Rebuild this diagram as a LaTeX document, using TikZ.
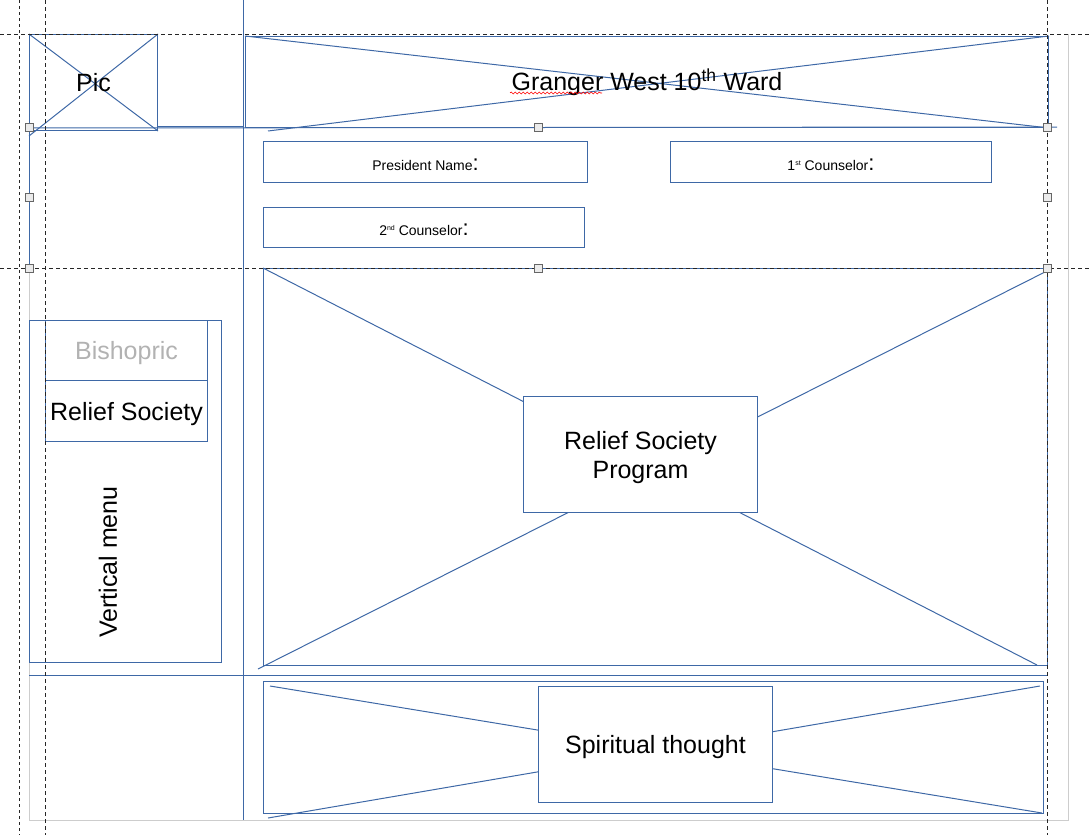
\documentclass[tikz,border=0pt]{standalone}
\usepackage{fontspec}
\setmainfont{Liberation Sans}
\usetikzlibrary{decorations.pathmorphing}
\definecolor{frameblue}{RGB}{62,104,166}
\definecolor{pagegray}{RGB}{205,205,205}
\definecolor{handlegray}{RGB}{235,235,235}
\definecolor{menugray}{RGB}{178,178,178}
\newcommand{\ordsup}[1]{\raisebox{5pt}{\fontsize{7}{7}\selectfont #1}}
\newcommand{\bigcolon}{{\fontsize{22}{22}\selectfont:}}

\begin{document}
\begin{tikzpicture}[x=1pt,y=-1pt,
  frame/.style={draw=frameblue,line width=1pt},
  box/.style={frame,inner sep=0pt,anchor=north west},
  inbox/.style={box,fill=white,align=center},
  guide/.style={draw=black!85,line width=0.9pt,dash pattern=on 4pt off 3pt},
  handle/.style={draw=black!60,fill=handlegray,line width=0.6pt,minimum size=8pt,inner sep=0pt},
  big/.style={font=\fontsize{25}{29}\selectfont},
  lowtext/.style={text depth=0pt},
  small/.style={font=\fontsize{14}{17}\selectfont,text height=16pt,text depth=0pt}]

\useasboundingbox (0,0) rectangle (1091,835);

% page and grid
\coordinate (pgnw) at (29,34);
\coordinate (pgne) at (1068,34);
\coordinate (pgsw) at (29,820);
\coordinate (pgse) at (1068,820);
\draw[pagegray,line width=1pt] (pgne) -- (pgse) -- (pgsw) -- (29,268);
\draw[frame] (pgnw) -- (29,268);
\draw[frame] (243,0) -- (243,820);
\draw[frame] (29,675) -- (1047,675);
\draw[frame] (29,128) -- (1057,127);
\draw[frame] (157,126) -- (243,126);

% header
\node[box,minimum width=128pt,minimum height=96pt] (pic) at (29,34) {};
\draw[frame] (pic.north west) -- (pic.south east);
\draw[frame] (pic.north east) -- (29,136);
\node[big] (pictxt) at (pic.center) {Pic};

\node[box,minimum width=803pt,minimum height=91pt] (hdr) at (245,36) {};
\coordinate (hdrend) at (268,131);
\draw[frame] (hdr.north west) -- (hdr.south east);
\draw[frame] (hdr.north east) -- (hdrend);
\node[big] (hdrtxt) at (hdr.center) {Granger West 10\textsuperscript{th} Ward};
\coordinate (sqa) at (510,93);
\coordinate (sqb) at (602,93);
\draw[red,line width=0.6pt,decorate,decoration={snake,amplitude=1pt,segment length=4pt}] (sqa) -- (sqb);

% names
\node[box,small,minimum width=324pt,minimum height=41pt] (pres) at (263,141)
  {President Name\bigcolon};
\node[box,small,minimum width=321pt,minimum height=41pt] (first) at (670,141)
  {1\ordsup{st} Counselor\bigcolon};
\node[box,small,minimum width=321pt,minimum height=40pt] (second) at (263,207)
  {2\ordsup{nd} Counselor\bigcolon};

% menu
\node[box,minimum width=192pt,minimum height=342pt] (menu) at (29,320) {};
\node[box,big,lowtext,text=menugray,minimum width=162pt,minimum height=60pt] (bish) at (45,320) {Bishopric};
\node[box,big,lowtext,minimum width=162pt,minimum height=61pt] (rs) at (45,380) {Relief Society};
\node[big,rotate=90] (vmenu) at (108,562) {Vertical menu};

% content
\node[box,minimum width=784pt,minimum height=397pt] (main) at (263,268) {};
\coordinate (mainse) at (1037,665);
\coordinate (mainne) at (1045,272);
\coordinate (mainsw) at (258,669);
\draw[frame] (main.north west) -- (mainse);
\draw[frame] (mainne) -- (mainsw);
\node[inbox,big,lowtext,minimum width=234pt,minimum height=116pt] (prog) at (523,396) {Relief Society\\ Program};

\node[box,minimum width=780pt,minimum height=132pt] (foot) at (263,681) {};
\coordinate (ftnw) at (270,686);
\coordinate (ftse) at (1042,813);
\coordinate (ftne) at (1040,686);
\coordinate (ftsw) at (268,818);
\draw[frame] (ftnw) -- (ftse);
\draw[frame] (ftne) -- (ftsw);
\node[inbox,big,lowtext,minimum width=234pt,minimum height=116pt] (thought) at (538,686) {Spiritual thought};

% guides
\draw[guide] (0,34) -- (1091,34);
\draw[guide] (0,268) -- (1091,268);
\draw[guide] (45,0) -- (45,835);
\draw[guide] (1047,0) -- (1047,835);
\draw[guide,dash pattern=on 3pt off 3pt] (19,0) -- (19,835);

\foreach \hx/\hy [count=\i] in {29/127,538/127,1047/127,29/197,1047/197,29/268,538/268,1047/268}
  \node[handle] (h\i) at (\hx,\hy) {};
\end{tikzpicture}
\end{document}
